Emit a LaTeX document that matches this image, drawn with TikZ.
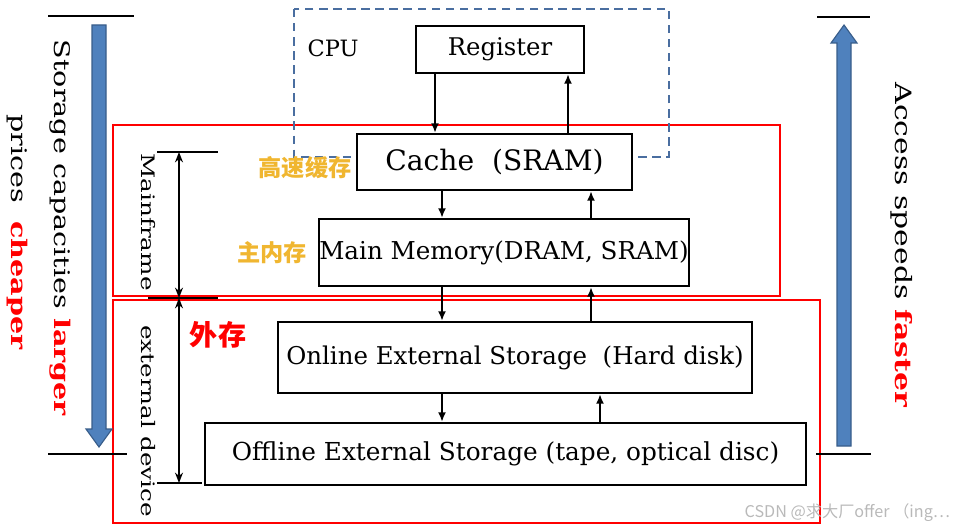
\documentclass[tikz,border=0pt]{standalone}
\usepackage{fontspec}
\usepackage{graphicx}
\setmainfont{DejaVu Serif}
\newfontfamily\cjk{Noto Sans CJK SC}
\usetikzlibrary{arrows.meta, calc}
\definecolor{bleuacier}{RGB}{79,129,189}
\definecolor{bleubord}{RGB}{56,93,138}
\definecolor{tiretcpu}{RGB}{74,110,160}
\definecolor{orlabel}{RGB}{240,182,48}
\definecolor{marque}{RGB}{185,185,185}
\newcommand{\etire}[1]{\scalebox{1.33}[1]{#1}}
\tikzset{
  boite/.style={draw, fill=white, line width=1.6pt, inner sep=0pt},
  flux/.style={-{Latex[length=2.4mm,width=2mm]}, line width=1.3pt},
  cadre/.style={draw=red, line width=1.5pt},
  trait/.style={line width=1.5pt},
  borne/.style={{Stealth[length=2.6mm,width=2mm]}-{Stealth[length=2.6mm,width=2mm]}, line width=1pt},
  vtexte/.style={rotate=-90, inner sep=0pt},
  fleche/.style={fill=bleuacier, draw=bleubord, line width=0.8pt},
}

\begin{document}
\begin{tikzpicture}[x=0.025cm, y=-0.025cm]
  \useasboundingbox (0,0) rectangle (957,531);
  % cadres rouges
  \draw[cadre] (113,125) rectangle (780,296);
  \draw[cadre] (113,300) rectangle (820,523);
  % CPU
  \draw[draw=tiretcpu, line width=1.3pt, dash pattern=on 6pt off 4pt] (294,9) rectangle (669,157);
  \node[font=\fontsize{16}{18}\selectfont] (cpu) at (333,48) {CPU};
  % niveaux
  \node[boite, minimum width=4.2cm, minimum height=1.175cm, font=\fontsize{17.3}{20}\selectfont] (reg) at (500,49.5) {Register};
  \node[boite, minimum width=6.875cm, minimum height=1.4cm, font=\fontsize{20}{22}\selectfont] (cache) at (494.5,162) {Cache\ \ (SRAM)};
  \node[boite, minimum width=9.2cm, minimum height=1.675cm, font=\fontsize{17.5}{20}\selectfont] (mem) at (504,252.5) {Main Memory(DRAM, SRAM)};
  \node[boite, minimum width=11.85cm, minimum height=1.775cm, font=\fontsize{17.4}{20}\selectfont] (online) at (515,357.5) {Online External Storage\ \ (Hard disk)};
  \node[boite, minimum width=15.025cm, minimum height=1.55cm, font=\fontsize{17.6}{20}\selectfont] (offline) at (505.5,454) {Offline External Storage (tape, optical disc)};
  % colonnes des fleches
  \coordinate (gA) at (435,0);
  \coordinate (dA) at (568,0);
  \coordinate (gB) at (442,0);
  \coordinate (dB) at (591,0);
  \coordinate (dC) at (600,0);
  \draw[flux] (reg.south -| gA) -- (cache.north -| gA);
  \draw[flux] (cache.north -| dA) -- (reg.south -| dA);
  \draw[flux] (cache.south -| gB) -- (mem.north -| gB);
  \draw[flux] (mem.north -| dB) -- (cache.south -| dB);
  \draw[flux] (mem.south -| gB) -- (online.north -| gB);
  \draw[flux] (online.north -| dB) -- (mem.south -| dB);
  \draw[flux] (online.south -| gB) -- (offline.north -| gB);
  \draw[flux] (offline.north -| dC) -- (online.south -| dC);
  % etiquettes chinoises
  \node[text=orlabel, font=\cjk\bfseries\fontsize{16.5}{18}\selectfont] (gaosu) at (305,168) {高速缓存};
  \node[text=orlabel, font=\cjk\bfseries\fontsize{16.5}{18}\selectfont] (zhunei) at (272,253) {主内存};
  \node[text=red, font=\cjk\bfseries\fontsize{20}{22}\selectfont] (waicun) at (218,335) {外存};
  % grandes fleches bleues
  \draw[fleche] (92,25) -- (106,25) -- (106,429) -- (112,429) -- (99,447) -- (86,429) -- (92,429) -- cycle;
  \draw[fleche] (844,25) -- (857,43) -- (851,43) -- (851,446) -- (837,446) -- (837,43) -- (831,43) -- cycle;
  \draw[trait] (48,16) -- (134,16);
  \draw[trait] (48,454) -- (127,454);
  \draw[trait] (817,17) -- (870,17);
  \draw[trait] (816,454) -- (871,454);
  % accolades Mainframe / external device
  \draw[trait] (157,152) -- (218,152);
  \draw[trait] (148,298) -- (218,298);
  \draw[trait] (157,483) -- (202,483);
  \draw[borne] (179,152) -- (179,298);
  \draw[borne] (179,298) -- (179,483);
  % textes verticaux
  \node[vtexte, font=\fontsize{15.3}{18}\selectfont] (cap1) at (60,228) {\etire{Storage capacities \textcolor{red}{\textbf{larger}}}};
  \node[vtexte, font=\fontsize{15.3}{18}\selectfont] (cap2) at (17,232) {\etire{prices\ \ \textcolor{red}{\textbf{cheaper}}}};
  \node[vtexte, font=\fontsize{16}{18}\selectfont] (vitesse) at (902,245) {\etire{Access speeds \textcolor{red}{\textbf{faster}}}};
  \node[vtexte, font=\fontsize{13.2}{15}\selectfont] (mainframe) at (148,222) {\etire{Mainframe}};
  \node[vtexte, font=\fontsize{13.2}{15}\selectfont] (externe) at (148,421) {\etire{external device}};
  % filigrane
  \node[anchor=east, text=marque, font=\cjk\fontsize{11.5}{13}\selectfont] (csdn) at (955,513) {CSDN @求大厂offer （ing…};
\end{tikzpicture}
\end{document}
